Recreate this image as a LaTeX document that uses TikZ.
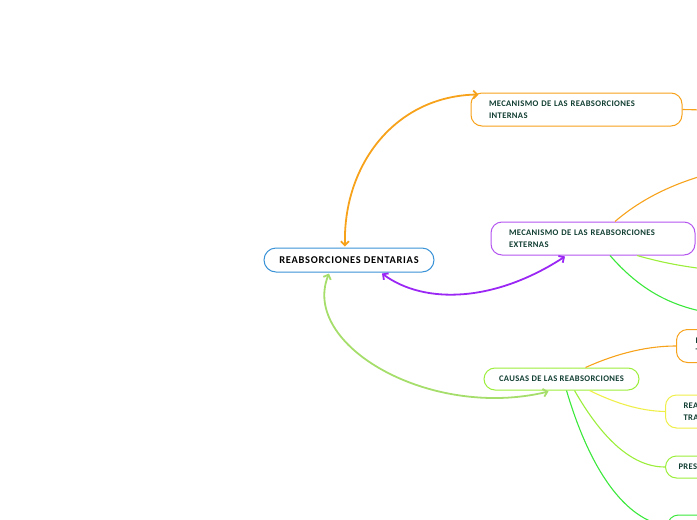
\documentclass[tikz,border=0pt]{standalone}
\usepackage{fontspec}
\setmainfont{Carlito}
\newfontfamily\mapfont[LetterSpace=4]{Carlito}
\newfontfamily\mainfont[LetterSpace=7]{Carlito}
\usetikzlibrary{arrows.meta, positioning}
\definecolor{mporange}{HTML}{F7A21B}
\definecolor{mppurple}{HTML}{B455F0}
\definecolor{mpviolet}{HTML}{9B27F5}
\definecolor{mpblue}{HTML}{3A93D6}
\definecolor{mpgreen}{HTML}{3BE83B}
\definecolor{mplime}{HTML}{9BEE3A}
\definecolor{mpyellow}{HTML}{EFEF4A}
\definecolor{mpsoft}{HTML}{A6DE6B}
\definecolor{mptext}{HTML}{123F33}

\begin{document}
\begin{tikzpicture}[
  x=1pt, y=-1pt,
  every node/.style={text=mptext, font=\mapfont\fontsize{8.6}{11.5}\selectfont\bfseries},
  topic/.style={draw=#1, fill=white, line width=1pt, rounded corners=11pt,
    inner xsep=18pt, inner ysep=0pt, align=left},
  branch/.style={line width=1.1pt},
  link/.style={line width=1.8pt, {Straight Barb[length=4pt,width=8pt]}-{Straight Barb[length=4pt,width=8pt]}},
]

% Frame
\useasboundingbox (0,0) rectangle (697,520);
\clip (0,0) rectangle (697,520);

% Central topic
\node[topic=mpblue, text=black, font=\mainfont\fontsize{10.4}{12}\selectfont\bfseries,
  minimum width=170pt, minimum height=24pt, align=center, inner xsep=4pt, rounded corners=12pt]
  (dent) at (349,260) {REABSORCIONES DENTARIAS};

% Main topics
\node[topic=mporange, minimum width=211pt, minimum height=33pt, text width=175pt]
  (intr) at (576.5,109.5) {MECANISMO DE LAS REABSORCIONES\\INTERNAS};
\node[topic=mppurple, minimum width=204pt, minimum height=33pt, text width=168pt]
  (extr) at (593,238.5) {MECANISMO DE LAS REABSORCIONES\\EXTERNAS};
\node[topic=mplime, minimum width=155pt, minimum height=22pt, align=center, inner xsep=4pt]
  (caus) at (561.5,379) {CAUSAS DE LAS REABSORCIONES};

% Subtopics, cut by the right edge
\node[topic=mporange, anchor=west, minimum height=33pt, inner xsep=19pt]
  (cau1) at (676,346) {R\\T};
\node[topic=mpyellow, anchor=west, minimum height=33pt]
  (cau2) at (665,411.5) {REA\\TRA};
\node[topic=mplime, anchor=west, minimum height=22pt, inner xsep=13pt]
  (cau3) at (665,467) {PRES};
\node[topic=mpgreen, anchor=west, minimum width=60pt, minimum height=22pt]
  (cau4) at (667,526) {};

% Free ends past the edge
\coordinate (intr-out) at (705,110);
\coordinate (extr-o) at (705,175);
\coordinate (extr-l) at (705,269);
\coordinate (extr-g) at (705,312);

% Links to the central topic
\draw[link, mporange] ([xshift=-4pt,yshift=1pt]dent.north)
  .. controls (343,165) and (395,96) .. ([xshift=8pt,yshift=-2pt]intr.north west);
\draw[link, mpviolet] ([xshift=33pt,yshift=-1pt]dent.south)
  .. controls (425,305) and (495,302) .. ([xshift=-28pt,yshift=-1pt]extr.south);
\draw[link, mpsoft] ([xshift=-20pt,yshift=-1pt]dent.south)
  .. controls (300,345) and (430,420) .. ([xshift=-13pt,yshift=-1pt]caus.south);

% Branches
\draw[branch, mporange] (intr.east) -- (intr-out);
\draw[branch, mporange] ([xshift=22pt]extr.north)
  .. controls (640,200) and (670,185) .. (extr-o);
\draw[branch, mplime] ([xshift=44pt]extr.south)
  .. controls (660,262) and (680,266) .. (extr-l);
\draw[branch, mpgreen] ([xshift=17pt]extr.south)
  .. controls (640,290) and (670,305) .. (extr-g);
\draw[branch, mporange] ([xshift=24pt]caus.north)
  .. controls (620,352) and (650,346) .. (cau1.west);
\draw[branch, mpyellow] ([xshift=28pt]caus.south)
  .. controls (615,403) and (640,411) .. (cau2.west);
\draw[branch, mplime] ([xshift=13pt]caus.south)
  .. controls (600,435) and (630,467) .. (cau3.west);
\draw[branch, mpgreen] ([xshift=5pt]caus.south)
  .. controls (590,470) and (625,520) .. (cau4.west);

\end{tikzpicture}
\end{document}
